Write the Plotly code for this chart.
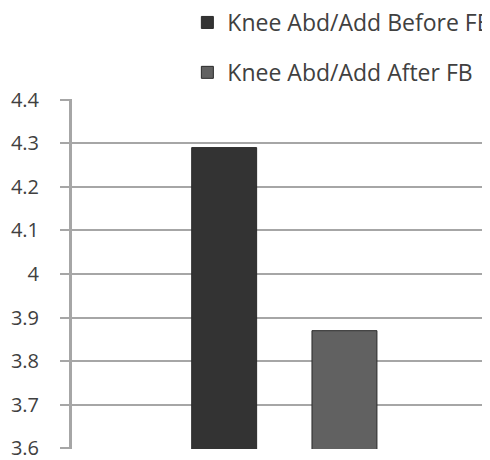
import plotly.graph_objects as go

categories = ["Knee Abd/Add"]
series_names = ["Knee Abd/Add Before FB", "Knee Abd/Add After FB"]
series_values = [[4.29], [3.87]]
series_colors = ["#333333", "#616161"]
y_ticks = [3.6, 3.7, 3.8, 3.9, 4.0, 4.1, 4.2, 4.3, 4.4]
y_tick_labels = ["3.6", "3.7", "3.8", "3.9", "4", "4.1", "4.2", "4.3", "4.4"]

fig = go.Figure()
for i, (name, vals, col) in enumerate(zip(series_names, series_values, series_colors)):
    fig.add_trace(go.Bar(
        x=categories, y=vals, name=name,
        marker=dict(color=col, line=dict(color="#2a2a2a", width=1)),
        legendgroup=str(i),
    ))

fig.update_layout(
    width=482, height=452,
    margin=dict(l=64, r=0, t=91, b=11, autoexpand=False),
    paper_bgcolor="white", plot_bgcolor="white",
    barmode="group", bargap=0.2, bargroupgap=0.46,
    font=dict(family="Open Sans", color="#404040"),
    showlegend=True,
    legend=dict(
        x=0.276, xanchor="left", y=1.28, yanchor="top", yref="paper",
        orientation="v", traceorder="grouped", tracegroupgap=17,
        font=dict(size=23, color="#404040"), bgcolor="rgba(0,0,0,0)",
    ),
)

fig.update_xaxes(
    type="category", range=[-0.706, 0.684], showticklabels=False,
    showgrid=False, zeroline=False, showline=False, ticks="",
    automargin=False,
)
fig.update_yaxes(
    range=[3.5985, 4.4015], tickvals=y_ticks, ticktext=y_tick_labels,
    showgrid=True, gridcolor="#a6a6a6", gridwidth=2,
    showline=True, linecolor="#a6a6a6", linewidth=3,
    ticks="outside", ticklen=9, tickwidth=2, tickcolor="#a6a6a6",
    tickfont=dict(size=20, color="#404040"), zeroline=False,
    ticklabelstandoff=17, ticklabeloverflow="allow", automargin=False,
)

fig.write_html("out.html")
